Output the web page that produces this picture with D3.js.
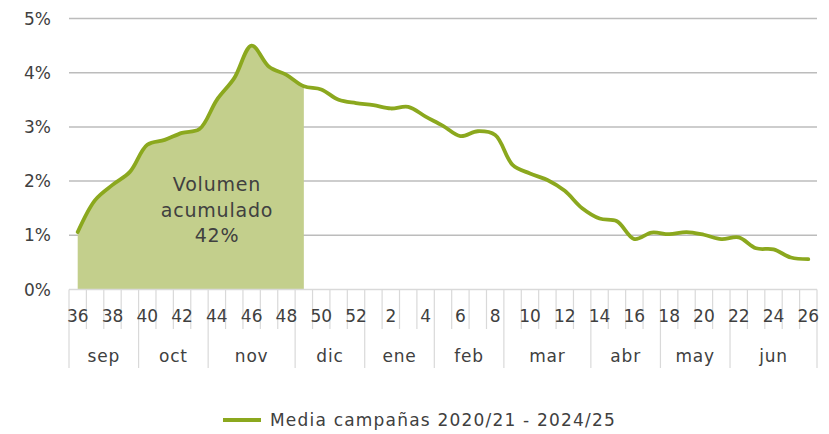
<!DOCTYPE html>
<html lang="es">
<head>
<meta charset="utf-8">
<title>Media campañas</title>
<script src="https://d3js.org/d3.v7.min.js"></script>
<style>
  body { margin: 0; background: #fff; }
  text { font-family: "DejaVu Sans", sans-serif; fill: #404040; }
</style>
</head>
<body>
<script>
// weeks of the campaign (sep -> jun)
var weeks = [36,37,38,39,40,41,42,43,44,45,46,47,48,49,50,51,52,1,2,3,4,5,6,7,8,9,10,11,12,13,14,15,16,17,18,19,20,21,22,23,24,25,26];
// share of volume per week, %
var values = [1.06,1.65,1.93,2.17,2.67,2.76,2.89,2.96,3.50,3.90,4.50,4.11,3.96,3.75,3.69,3.50,3.44,3.40,3.34,3.37,3.19,3.02,2.83,2.92,2.85,2.30,2.14,2.02,1.82,1.50,1.31,1.26,0.93,1.05,1.02,1.06,1.01,0.93,0.96,0.76,0.74,0.59,0.56];
var months = ["sep","oct","nov","dic","ene","feb","mar","abr","may","jun"];
var monthWeeks = [4,4,5,4,4,4,5,4,4,5];
var yTicks = [0,1,2,3,4,5];
var accumEnd = 49;   // filled area ends at week 49
var seriesName = "Media campañas 2020/21 - 2024/25";
var areaLabel = ["Volumen", "acumulado", "42%"];

var w = 829, h = 434;
var padL = 69, padR = 817, padT = 18.5, padB = 289.5;

var svg = d3.select("body").append("svg").attr("width", w).attr("height", h);

var x = d3.scaleBand().domain(d3.range(weeks.length)).range([padL, padR]);
var y = d3.scaleLinear().domain([0, 5]).range([padB, padT]);
var cx = function(i) { return x(i) + x.bandwidth() / 2; };

// gridlines
svg.append("g").selectAll("line").data(yTicks.slice(1)).enter().append("line")
  .attr("x1", padL).attr("x2", padR)
  .attr("y1", function(d) { return y(d); }).attr("y2", function(d) { return y(d); })
  .attr("stroke", "#bcbcbc").attr("stroke-width", 1.5);

// y labels
svg.append("g").selectAll("text").data(yTicks).enter().append("text")
  .attr("x", 51).attr("y", function(d) { return y(d) + 6; })
  .attr("text-anchor", "end").attr("font-size", "17px")
  .text(function(d) { return d + "%"; });

// filled area
var endIdx = weeks.indexOf(accumEnd);
var pts = values.map(function(v, i) { return [i, v]; });
var area = d3.area().x(function(d) { return cx(d[0]); }).y0(y(0)).y1(function(d) { return y(d[1]); })
  .curve(d3.curveCatmullRom.alpha(0.5));
svg.append("path").datum(pts.slice(0, endIdx + 1)).attr("d", area).attr("fill", "#c3cf8c");

// line
var line = d3.line().x(function(d) { return cx(d[0]); }).y(function(d) { return y(d[1]); })
  .curve(d3.curveCatmullRom.alpha(0.5));
svg.append("path").datum(pts).attr("d", line)
  .attr("fill", "none").attr("stroke", "#8ba81e").attr("stroke-width", 3.8).attr("stroke-linecap", "round");

// axis bottom line + week ticks
svg.append("line").attr("x1", padL).attr("x2", padR).attr("y1", padB).attr("y2", padB)
  .attr("stroke", "#d9d9d9").attr("stroke-width", 1.5);
svg.append("g").selectAll("line").data(d3.range(weeks.length + 1)).enter().append("line")
  .attr("x1", function(i) { return padL + i * x.bandwidth(); })
  .attr("x2", function(i) { return padL + i * x.bandwidth(); })
  .attr("y1", padB).attr("y2", 329)
  .attr("stroke", "#d9d9d9").attr("stroke-width", 1.2);

// week labels (every 2nd)
svg.append("g").selectAll("text").data(weeks).enter().append("text")
  .filter(function(d) { return d % 2 === 0; })
  .attr("x", function(d) { return cx(weeks.indexOf(d)); }).attr("y", 322)
  .attr("text-anchor", "middle").attr("font-size", "17px")
  .text(function(d) { return d; });

// month groups
var acc = 0, bounds = [0];
monthWeeks.forEach(function(n) { acc += n; bounds.push(acc); });
svg.append("g").selectAll("line").data(bounds).enter().append("line")
  .attr("x1", function(b) { return padL + b * x.bandwidth(); })
  .attr("x2", function(b) { return padL + b * x.bandwidth(); })
  .attr("y1", 329).attr("y2", 368)
  .attr("stroke", "#d9d9d9").attr("stroke-width", 1.2);
svg.append("g").selectAll("text").data(months).enter().append("text")
  .attr("x", function(m, i) { return padL + (bounds[i] + bounds[i + 1]) / 2 * x.bandwidth(); })
  .attr("y", 362).attr("text-anchor", "middle").attr("font-size", "17px")
  .attr("letter-spacing", "0.8px")
  .text(function(m) { return m; });

// area annotation
svg.append("g").selectAll("text").data(areaLabel).enter().append("text")
  .attr("x", 217).attr("y", function(d, i) { return 191 + i * 25.5; })
  .attr("text-anchor", "middle").attr("font-size", "19px")
  .attr("letter-spacing", "0.8px")
  .text(function(d) { return d; });

// legend
svg.append("line").attr("x1", 223).attr("x2", 261).attr("y1", 420).attr("y2", 420)
  .attr("stroke", "#8ba81e").attr("stroke-width", 4);
svg.append("text").attr("x", 270).attr("y", 426).attr("font-size", "17px")
  .attr("letter-spacing", "1.2px").text(seriesName);
</script>
</body>
</html>
